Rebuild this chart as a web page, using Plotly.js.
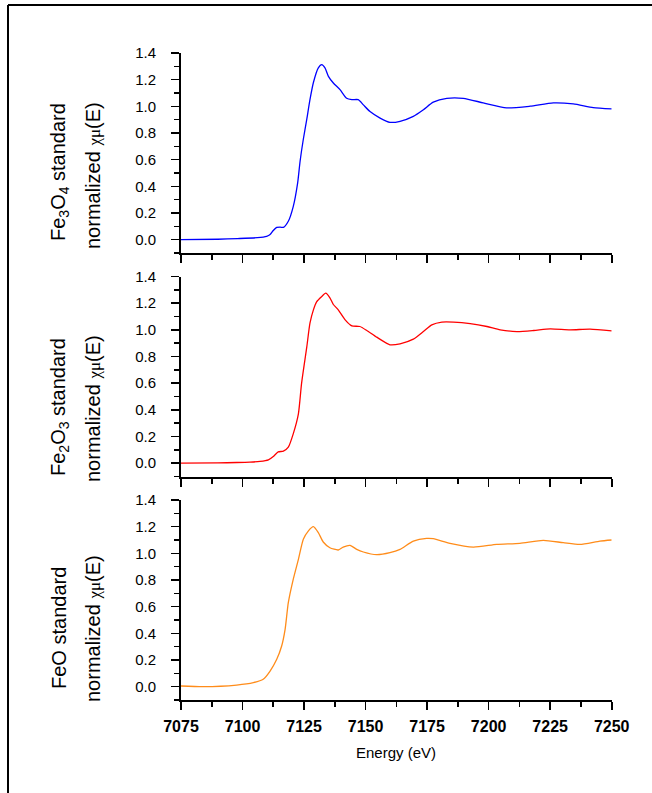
<!DOCTYPE html>
<html>
<head>
<meta charset="utf-8">
<script src="https://cdn.plot.ly/plotly-3.0.1.min.js"></script>
<style>html,body{margin:0;padding:0;background:#fff;}#chart{width:652px;height:793px;}</style>
</head>
<body>
<div id="chart"></div>
<script>
// ---- data ----
const energyFe3O4 = [7075, 7090, 7098, 7106, 7109.8, 7111.2, 7112.5, 7113.9, 7115.3, 7116.6, 7118.6, 7120.6, 7122.4, 7123.4, 7124.7, 7126.1, 7127.4, 7128.8, 7130.8, 7132.2, 7133.5, 7134.9, 7136.9, 7139.6, 7142.3, 7144.4, 7147.0, 7149.1, 7151.8, 7155.9, 7159.9, 7164.0, 7169.4, 7173.5, 7177.5, 7183.0, 7189.7, 7197.8, 7207.3, 7216.8, 7226.3, 7234.4, 7242.5, 7250];
const muFe3O4 = [0.0, 0.003, 0.008, 0.015, 0.025, 0.038, 0.069, 0.092, 0.094, 0.092, 0.138, 0.248, 0.426, 0.590, 0.753, 0.902, 1.05, 1.179, 1.289, 1.313, 1.289, 1.225, 1.175, 1.125, 1.06, 1.05, 1.05, 1.011, 0.961, 0.912, 0.88, 0.888, 0.925, 0.975, 1.031, 1.06, 1.06, 1.026, 0.988, 1.001, 1.026, 1.018, 0.991, 0.981];

const energyFe2O3 = [7075, 7090, 7097.6, 7103, 7107.1, 7110.5, 7112.5, 7114.5, 7116.6, 7118.6, 7120.6, 7122.7, 7124.0, 7126.1, 7127.4, 7128.8, 7130.1, 7132.2, 7133.8, 7135.5, 7136.9, 7138.9, 7141.7, 7144.4, 7147.7, 7150.5, 7154.5, 7159.9, 7164.0, 7169.4, 7173.5, 7176.9, 7181.0, 7185.7, 7192.5, 7199.3, 7204.7, 7211.5, 7218.3, 7225.0, 7233.1, 7241.2, 7250];
const muFe2O3 = [0.0, 0.002, 0.005, 0.008, 0.013, 0.025, 0.05, 0.085, 0.09, 0.12, 0.22, 0.37, 0.60, 0.87, 1.05, 1.15, 1.21, 1.25, 1.275, 1.24, 1.19, 1.15, 1.075, 1.03, 1.025, 0.995, 0.945, 0.888, 0.895, 0.93, 0.987, 1.037, 1.058, 1.058, 1.047, 1.025, 1.0, 0.987, 0.995, 1.007, 1.0, 1.005, 0.992];

const energyFeO = [7075, 7084, 7097.6, 7104.4, 7108.4, 7111.2, 7113.9, 7115.9, 7117.3, 7118.6, 7120.6, 7122.7, 7124.7, 7126.7, 7128.8, 7130.8, 7132.8, 7135.5, 7138.9, 7140.9, 7143.7, 7146.4, 7149.1, 7154.5, 7159.9, 7164.0, 7169.4, 7174.8, 7177.5, 7184.3, 7193.8, 7203.3, 7212.7, 7222.2, 7230.3, 7237.1, 7245.2, 7250];
const muFeO = [0.005, 0.0, 0.012, 0.03, 0.055, 0.117, 0.205, 0.305, 0.43, 0.63, 0.805, 0.955, 1.105, 1.167, 1.2, 1.155, 1.085, 1.042, 1.025, 1.047, 1.06, 1.03, 1.01, 0.99, 1.005, 1.03, 1.092, 1.112, 1.11, 1.075, 1.047, 1.067, 1.075, 1.097, 1.08, 1.067, 1.092, 1.1];

const xTickVals = [7075, 7100, 7125, 7150, 7175, 7200, 7225, 7250];
const yTickVals = [0.0, 0.2, 0.4, 0.6, 0.8, 1.0, 1.2, 1.4];
const panelNames = ['Fe<sub>3</sub>O<sub>4</sub> standard', 'Fe<sub>2</sub>O<sub>3</sub> standard', 'FeO standard'];
const yTitleLine2 = 'normalized <span style="font-family:Liberation Serif;font-size:17px">χμ</span>(E)';
const xTitle = 'Energy (eV)';

// ---- layout ----
const W = 652, H = 793;
const px = v => v / W;
const py = v => 1 - v / H;
const FONT = 'Liberation Sans, Arial, sans-serif';

function xAxis(anchor, labels) {
  return {
    anchor: anchor, domain: [px(181), px(611.7)], range: [7075, 7250],
    tickmode: 'array', tickvals: xTickVals,
    ticks: 'outside', ticklen: 8, tickwidth: 1.6, tickcolor: '#000',
    minor: {dtick: 12.5, tick0: 7075, ticks: 'outside', ticklen: 5, tickwidth: 1.6, tickcolor: '#000'},
    showline: true, linecolor: '#000', linewidth: 2,
    showgrid: false, zeroline: false, showticklabels: labels,
    tickfont: {family: FONT, size: 16, color: '#000', weight: 'bold'},
    ticklabelstandoff: 3, fixedrange: true
  };
}
function yAxis(anchor, dom) {
  return {
    anchor: anchor, domain: dom, range: [-0.1, 1.4],
    tickmode: 'array', tickvals: yTickVals, tickformat: '.1f',
    ticks: 'outside', ticklen: 8, tickwidth: 1.6, tickcolor: '#000',
    minor: {dtick: 0.1, tick0: 0, ticks: 'outside', ticklen: 5, tickwidth: 1.6, tickcolor: '#000'},
    showline: true, linecolor: '#000', linewidth: 2,
    showgrid: false, zeroline: false,
    tickfont: {family: FONT, size: 15, color: '#000'},
    ticklabelstandoff: 12, fixedrange: true
  };
}

const traces = [
  {x: energyFe3O4, y: muFe3O4, xaxis: 'x', yaxis: 'y', type: 'scatter', mode: 'lines',
   line: {color: '#0000ff', width: 1.3, shape: 'spline', smoothing: 0.6}},
  {x: energyFe2O3, y: muFe2O3, xaxis: 'x2', yaxis: 'y2', type: 'scatter', mode: 'lines',
   line: {color: '#ff0000', width: 1.3, shape: 'spline', smoothing: 0.6}},
  {x: energyFeO, y: muFeO, xaxis: 'x3', yaxis: 'y3', type: 'scatter', mode: 'lines',
   line: {color: '#ff8c1a', width: 1.3, shape: 'spline', smoothing: 0.6}}
];

const titleY = [[172, 176], [407, 409], [628, 629]];
const annotations = [];
panelNames.forEach((name, i) => {
  annotations.push({text: name, xref: 'paper', yref: 'paper', x: px(59), y: py(titleY[i][0]),
    textangle: -90, showarrow: false, xanchor: 'center', yanchor: 'middle',
    font: {family: FONT, size: 20, color: '#000'}});
  annotations.push({text: yTitleLine2, xref: 'paper', yref: 'paper', x: px(93), y: py(titleY[i][1]),
    textangle: -90, showarrow: false, xanchor: 'center', yanchor: 'middle',
    font: {family: FONT, size: 20, color: '#000'}});
});
annotations.push({text: xTitle, xref: 'paper', yref: 'paper', x: px(396.3), y: py(752.7),
  showarrow: false, xanchor: 'center', yanchor: 'middle',
  font: {family: FONT, size: 15, color: '#000'}});

const layout = {
  width: W, height: H, margin: {l: 0, r: 0, t: 0, b: 0},
  paper_bgcolor: '#fff', plot_bgcolor: 'rgba(0,0,0,0)', showlegend: false,
  xaxis: xAxis('y', false), yaxis: yAxis('x', [py(253), py(53)]),
  xaxis2: xAxis('y2', false), yaxis2: yAxis('x2', [py(476.5), py(276.5)]),
  xaxis3: xAxis('y3', true), yaxis3: yAxis('x3', [py(700), py(500)]),
  annotations: annotations,
  shapes: [
    {type: 'line', xref: 'paper', yref: 'paper', x0: px(8), x1: px(8), y0: -0.02, y1: py(5), line: {color: '#000', width: 2}},
    {type: 'line', xref: 'paper', yref: 'paper', x0: px(8), x1: 1.02, y0: py(5), y1: py(5), line: {color: '#000', width: 2}}
  ]
};

Plotly.newPlot('chart', traces, layout, {staticPlot: true, displayModeBar: false});
</script>
</body>
</html>
